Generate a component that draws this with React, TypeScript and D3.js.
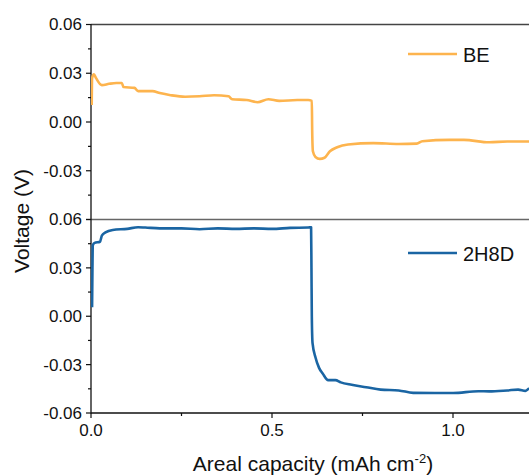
import React from "react";
import * as d3 from "d3";

const beCapacity = [0.002, 0.003, 0.008, 0.014, 0.03, 0.05, 0.07, 0.085, 0.09, 0.12, 0.13, 0.17, 0.19, 0.22, 0.26, 0.3, 0.34, 0.38, 0.39, 0.43, 0.46, 0.49, 0.52, 0.57, 0.6, 0.61, 0.611, 0.613, 0.62, 0.632, 0.645, 0.66, 0.68, 0.71, 0.78, 0.85, 0.9, 0.915, 0.99, 1.03, 1.1, 1.15, 1.21, 1.25];
const beVoltage = [0.0105, 0.027, 0.0294, 0.027, 0.0227, 0.0235, 0.024, 0.024, 0.0215, 0.021, 0.019, 0.019, 0.0178, 0.0165, 0.0155, 0.0158, 0.0165, 0.0158, 0.014, 0.0135, 0.0122, 0.014, 0.013, 0.0135, 0.0135, 0.013, -0.005, -0.018, -0.0215, -0.0227, -0.022, -0.018, -0.0155, -0.0138, -0.013, -0.0135, -0.0133, -0.0118, -0.011, -0.011, -0.0125, -0.012, -0.012, -0.012];

const h8dCapacity = [0.003, 0.004, 0.005, 0.01, 0.025, 0.03, 0.04, 0.06, 0.1, 0.13, 0.15, 0.19, 0.25, 0.3, 0.35, 0.4, 0.45, 0.5, 0.55, 0.6, 0.608, 0.609, 0.61, 0.612, 0.62, 0.63, 0.64, 0.655, 0.675, 0.69, 0.72, 0.76, 0.8, 0.85, 0.89, 0.95, 1.0, 1.07, 1.1, 1.15, 1.18, 1.2, 1.21, 1.25];
const h8dVoltage = [0.0056, 0.03, 0.044, 0.0455, 0.0462, 0.05, 0.052, 0.0535, 0.0542, 0.0552, 0.055, 0.0545, 0.0545, 0.054, 0.0545, 0.0542, 0.0545, 0.0542, 0.0548, 0.055, 0.0552, 0.03, 0.0, -0.0167, -0.0254, -0.032, -0.0355, -0.0396, -0.0396, -0.041, -0.0425, -0.044, -0.0455, -0.046, -0.0475, -0.0476, -0.0476, -0.0465, -0.0466, -0.046, -0.0455, -0.0463, -0.045, -0.045];

const seriesNames = ["BE", "2H8D"];
const yMajorTicks = [0.06, 0.03, 0.0, -0.03, -0.06];
const yMinorTicks = [0.045, 0.015, -0.015, -0.045];
const xMajorTicks = [0.0, 0.5, 1.0];
const xMinorTicks = [0.25, 0.75];

const FONT = "Arial, 'Liberation Sans', sans-serif";
const ORANGE = "#FDB44E";
const BLUE = "#1A65A3";

export default function App() {
  const W = 529, H = 476;
  const left = 91, right = 600;
  const x = d3.scaleLinear().domain([0, 1]).range([left, left + 362]);
  const yTop = d3.scaleLinear().domain([-0.06, 0.06]).range([219.5, 24.5]);
  const yBot = d3.scaleLinear().domain([-0.06, 0.06]).range([413, 219.5]);

  const topData = beCapacity.map((c, i) => [c, beVoltage[i]] as [number, number]);
  const botData = h8dCapacity.map((c, i) => [c, h8dVoltage[i]] as [number, number]);
  const lineTop = d3.line<[number, number]>().x(d => x(d[0])).y(d => yTop(d[1])).curve(d3.curveMonotoneX);
  const lineBot = d3.line<[number, number]>().x(d => x(d[0])).y(d => yBot(d[1])).curve(d3.curveMonotoneX);

  const fmt = (v: number) => d3.format(".2f")(v).replace("\u2212", "-");
  const topLabels = yMajorTicks.filter(t => t > -0.06);

  return (
    <svg width={W} height={H} style={{ position: "absolute", left: 0, top: 0 }} fontFamily={FONT}>
      <rect width={W} height={H} fill="#fff" />
      <defs>
        <clipPath id="plotclip">
          <rect x={left} y={20} width={W - left} height={395} />
        </clipPath>
      </defs>
      {/* frame lines */}
      <line x1={left} x2={right} y1={24.5} y2={24.5} stroke="#444" strokeWidth={1.3} />
      <line x1={left} x2={right} y1={219.5} y2={219.5} stroke="#666" strokeWidth={1.3} />
      <line x1={left} x2={right} y1={413} y2={413} stroke="#111" strokeWidth={1.3} />
      <line x1={left} x2={left} y1={24} y2={413.5} stroke="#111" strokeWidth={1.3} />

      {/* y ticks top panel */}
      {yMajorTicks.map(t => (
        <line key={"tt" + t} x1={left - 5} x2={left} y1={yTop(t)} y2={yTop(t)} stroke="#111" strokeWidth={1.2} />
      ))}
      {yMinorTicks.map(t => (
        <line key={"tm" + t} x1={left - 3} x2={left} y1={yTop(t)} y2={yTop(t)} stroke="#111" strokeWidth={1.2} />
      ))}
      {topLabels.map(t => (
        <text key={"tl" + t} x={left - 9} y={yTop(t)} dy="0.35em" textAnchor="end" fontSize={17} fill="#111">
          {fmt(t)}
        </text>
      ))}
      {/* y ticks bottom panel */}
      {yMajorTicks.map(t => (
        <line key={"bt" + t} x1={left - 5} x2={left} y1={yBot(t)} y2={yBot(t)} stroke="#111" strokeWidth={1.2} />
      ))}
      {yMinorTicks.map(t => (
        <line key={"bm" + t} x1={left - 3} x2={left} y1={yBot(t)} y2={yBot(t)} stroke="#111" strokeWidth={1.2} />
      ))}
      {yMajorTicks.map(t => (
        <text key={"bl" + t} x={left - 9} y={yBot(t)} dy="0.35em" textAnchor="end" fontSize={17} fill="#111">
          {fmt(t)}
        </text>
      ))}

      {/* x ticks */}
      {xMajorTicks.map(t => (
        <g key={"xt" + t}>
          <line x1={x(t)} x2={x(t)} y1={413} y2={418} stroke="#111" strokeWidth={1.2} />
          <text x={x(t)} y={436} textAnchor="middle" fontSize={17} fill="#111">{d3.format(".1f")(t)}</text>
        </g>
      ))}
      {xMinorTicks.map(t => (
        <line key={"xm" + t} x1={x(t)} x2={x(t)} y1={413} y2={416} stroke="#111" strokeWidth={1.2} />
      ))}

      {/* data */}
      <g clipPath="url(#plotclip)">
        <path d={lineTop(topData) || ""} fill="none" stroke={ORANGE} strokeWidth={2.6} strokeLinejoin="round" />
        <path d={lineBot(botData) || ""} fill="none" stroke={BLUE} strokeWidth={2.6} strokeLinejoin="round" />
      </g>

      {/* legends */}
      <line x1={408} x2={457} y1={54} y2={54} stroke={ORANGE} strokeWidth={2.6} />
      <text x={463} y={61.5} fontSize={20} fill="#111">{seriesNames[0]}</text>
      <line x1={408} x2={457} y1={253} y2={253} stroke={BLUE} strokeWidth={2.6} />
      <text x={463} y={260.5} fontSize={20} fill="#111">{seriesNames[1]}</text>

      {/* axis titles */}
      <text x={313} y={471} textAnchor="middle" fontSize={21} fill="#111">
        Areal capacity (mAh cm<tspan dy={-8} fontSize={13}>-2</tspan><tspan dy={8}>)</tspan>
      </text>
      <text transform="translate(29,221) rotate(-90)" textAnchor="middle" fontSize={21} fill="#111">
        Voltage (V)
      </text>
    </svg>
  );
}
